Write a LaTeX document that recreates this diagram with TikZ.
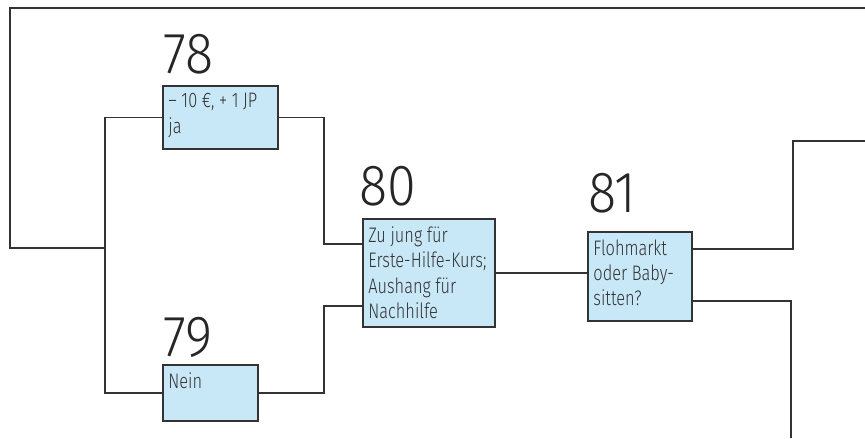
\documentclass[tikz,border=0pt]{standalone}
\usepackage{fontspec}
\setsansfont{Fira Sans}
\newfontfamily\numfont{Fira Sans Light}[FakeStretch=0.9]
\newfontfamily\boxfont{Fira Sans Light}[FakeStretch=0.78]
\usetikzlibrary{positioning}
\definecolor{boxblue}{HTML}{C8E8F8}
\definecolor{linegray}{HTML}{333333}
\begin{document}
\begin{tikzpicture}[x=0.5pt,y=-0.5pt]
        % Styles
        \tikzstyle{line}=[draw=linegray,line width=0.8pt]
        \tikzstyle{box}=[draw=linegray,line width=1pt,fill=boxblue,anchor=north west,inner sep=0pt]
        \tikzstyle{box text}=[anchor=north west,inner xsep=3pt,inner ysep=4pt,align=left,text=linegray,font=\boxfont\fontsize{10.5}{12.7}\selectfont]
        \tikzstyle{number}=[anchor=south west,inner sep=0pt,text=black!85,font=\numfont\fontsize{29}{29}\selectfont]
        \useasboundingbox (0,0) rectangle (865,438);
        %boxes
        \node[box,minimum width=57.5pt,minimum height=31.5pt] (b78) at (162,85) {};
        \node[box,minimum width=47.5pt,minimum height=28pt] (b79) at (162,364) {};
        \node[box,minimum width=66pt,minimum height=54pt] (b80) at (362,218) {};
        \node[box,minimum width=52pt,minimum height=44.5pt] (b81) at (587,231) {};
        \node[box text] (t78) at (b78.north west) {– 10 €, + 1 JP\\ja};
        \node[box text] (t79) at (b79.north west) {Nein};
        \node[box text] (t80) at (b80.north west) {Zu jung für\\Erste-Hilfe-Kurs;\\Aushang für\\Nachhilfe};
        \node[box text] (t81) at (b81.north west) {Flohmarkt\\oder Baby-\\sitten?};
        %numbers
        \node[number,above right=5pt and 0.5pt of b78.north west] (n78) {78};
        \node[number,above right=3pt and 0.5pt of b79.north west] (n79) {79};
        \node[number,above right=5.5pt and -1.5pt of b80.north west] (n80) {80};
        \node[number,above right=8.5pt and 0.5pt of b81.north west] (n81) {81};
        %lines
        \coordinate (top left) at (10,8);
        \coordinate (top right) at (865,8);
        \coordinate (split) at (105,248);
        \coordinate (out top) at (865,141);
        \coordinate (out bottom) at (791,438);
        \draw[line] (top right) -- (top left) |- (split);
        \draw[line] (b78.west) -| (split) |- (b79.west);
        \draw[line] (b78.east) -- ++(22.5pt,0) |- ([yshift=14.5pt]b80.west);
        \draw[line] (b79.east) -- ++(32.5pt,0) |- ([yshift=-16.5pt]b80.west);
        \draw[line] (b80.east) -- (b80.east -| b81.west);
        \draw[line] ([yshift=13.75pt]b81.east) -- ++(50pt,0) |- (out top);
        \draw[line] ([yshift=-12.25pt]b81.east) -| (out bottom);
\end{tikzpicture}
\end{document}
